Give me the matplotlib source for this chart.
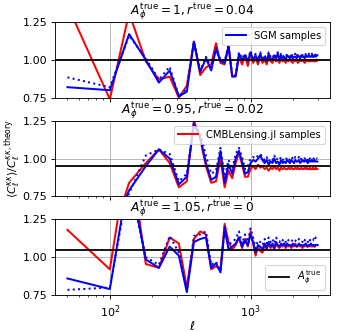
import numpy as np
import matplotlib
matplotlib.use("Agg")
import matplotlib.pyplot as plt

# multipole bins
ell = [50, 100, 137, 180, 223, 266, 309, 352, 395, 438, 481, 524, 567, 610, 653, 696,
       739, 782, 825, 868, 911, 954, 997, 1040, 1083, 1126, 1169, 1212, 1255, 1298,
       1341, 1384, 1427, 1470, 1513, 1556, 1599, 1642, 1685, 1728, 1771, 1814, 1857,
       1900, 1943, 1986, 2029, 2072, 2115, 2158, 2201, 2244, 2287, 2330, 2373, 2416,
       2459, 2502, 2545, 2588, 2631, 2674, 2717, 2760, 2803, 2846, 2889, 2932, 2975]

titles = [r"$A_\phi^{\rm true} = 1, r^{\rm true} = 0.04$",
          r"$A_\phi^{\rm true} = 0.95, r^{\rm true} = 0.02$",
          r"$A_\phi^{\rm true} = 1.05, r^{\rm true} = 0$"]
A_true = [1.0, 0.95, 1.05]

# panel 1
p1_red = [1.36, 0.74, 1.31, 0.99, 0.87, 0.89, 0.75, 0.83, 1.12, 0.90, 0.95, 0.97, 1.11,
          0.98, 0.97, 1.09, 0.89, 0.90, 1.02, 0.97, 1.03, 0.96, 1.04,
          0.98, 1.01, 0.97, 1.02, 0.98, 1.00, 0.97, 1.02, 0.99, 0.98, 1.01, 0.99, 1.00,
          0.98, 1.01, 0.99, 1.00, 0.98, 1.00, 0.99, 1.01, 0.99, 0.98, 1.00, 0.99, 1.00,
          0.98, 0.99, 1.00, 0.99, 1.00, 0.99, 0.98, 1.00, 0.99, 1.00, 0.99, 0.99, 1.00,
          0.99, 1.00, 0.99, 0.99, 1.00, 0.99, 1.00]
p1_blue = [0.82, 0.80, 1.17, 1.00, 0.85, 0.93, 0.76, 0.79, 1.12, 0.92, 1.01, 0.93, 1.07,
           0.99, 0.98, 1.09, 0.89, 0.89, 1.04, 1.00, 1.03, 0.99, 1.05,
           1.00, 1.03, 0.99, 1.04, 1.00, 1.02, 0.99, 1.04, 1.01, 1.00, 1.03, 1.01, 1.04,
           1.00, 1.03, 1.01, 1.02, 1.00, 1.03, 1.02, 1.01, 1.03, 1.01, 1.02, 1.02, 1.01,
           1.03, 1.02, 1.01, 1.03, 1.02, 1.02, 1.01, 1.03, 1.02, 1.02, 1.03, 1.02, 1.02,
           1.03, 1.02, 1.02, 1.03, 1.02, 1.03, 1.03]
p1_dot = [0.885, 0.82, 1.16, 1.01, 0.87, 0.955, 0.76, 0.81, 1.12, 0.93, 1.02, 0.95, 1.08,
          1.00, 0.99, 1.10, 0.90, 0.90, 1.05, 1.01, 1.04, 1.00, 1.06,
          1.01, 1.04, 1.00, 1.05, 1.01, 1.03, 1.00, 1.05, 1.02, 1.01, 1.04, 1.02, 1.05,
          1.01, 1.04, 1.02, 1.03, 1.02, 1.04, 1.03, 1.02, 1.04, 1.02, 1.03, 1.04, 1.02,
          1.04, 1.03, 1.02, 1.04, 1.03, 1.03, 1.02, 1.04, 1.03, 1.03, 1.04, 1.03, 1.03,
          1.04, 1.03, 1.03, 1.04, 1.03, 1.04, 1.04]

# panel 2
p2_red = [0.30, 0.45, 0.84, 0.97, 1.06, 0.97, 0.81, 0.85, 1.25, 1.13, 0.95, 0.84, 0.85,
          1.00, 0.81, 0.92, 0.87, 0.97, 1.04, 0.96, 0.88, 0.88, 0.93, 0.95, 0.93, 0.96, 0.94,
          0.95, 0.93, 0.94, 0.92, 0.94, 0.93, 0.95, 0.93, 0.94, 0.92, 0.94, 0.93, 0.94,
          0.93, 0.93, 0.94, 0.93, 0.94, 0.93, 0.93, 0.94, 0.93, 0.94, 0.93, 0.93, 0.94,
          0.93, 0.93, 0.94, 0.93, 0.94, 0.93, 0.93, 0.94, 0.93, 0.93, 0.94, 0.93, 0.93,
          0.94, 0.93, 0.93]
p2_blue = [0.30, 0.50, 0.79, 0.95, 1.06, 1.00, 0.83, 0.88, 1.23, 1.14, 0.97, 0.86, 0.88,
           1.05, 0.84, 0.96, 0.90, 1.00, 1.05, 0.98, 0.90, 0.91, 0.97, 0.99, 0.98, 1.00, 1.02,
           0.99, 0.97, 0.99, 0.96, 0.98, 0.97, 1.00, 0.97, 0.98, 0.96, 0.99, 0.97, 0.98,
           0.97, 0.99, 0.98, 0.97, 0.99, 0.98, 0.97, 0.99, 0.98, 0.98, 0.99, 0.97, 0.98,
           0.99, 0.98, 0.98, 0.99, 0.98, 0.97, 0.99, 0.98, 0.98, 0.99, 0.98, 0.98, 0.99,
           0.98, 0.98, 0.98]
p2_dot = [0.30, 0.50, 0.77, 1.02, 1.06, 1.03, 0.85, 0.90, 1.22, 1.17, 1.02, 0.90, 0.92,
          1.07, 0.88, 0.99, 0.93, 1.03, 1.07, 1.01, 0.93, 0.95, 1.00, 1.01, 1.00, 1.02, 1.03,
          1.01, 0.99, 1.01, 0.98, 1.00, 0.99, 1.02, 0.99, 1.00, 0.99, 1.01, 0.99, 1.00,
          0.99, 1.01, 1.00, 0.99, 1.01, 1.00, 0.99, 1.01, 1.00, 1.00, 1.01, 0.99, 1.00,
          1.01, 1.00, 1.00, 1.01, 1.00, 0.99, 1.01, 1.00, 1.00, 1.01, 1.00, 1.00, 1.01,
          1.00, 1.00, 1.00]

# panel 3
p3_red = [1.18, 0.92, 1.72, 0.955, 0.93, 1.13, 1.09, 0.80, 1.12, 1.17, 1.15, 0.92, 0.94,
          0.92, 1.22, 1.10, 1.05, 1.08, 1.13, 1.06, 1.12, 1.07, 1.17, 1.09, 1.01, 1.07, 1.04,
          1.03, 1.08, 1.05, 1.09, 1.06, 1.08, 1.05, 1.09, 1.07, 1.06, 1.08, 1.07, 1.09,
          1.06, 1.08, 1.07, 1.08, 1.06, 1.08, 1.07, 1.09, 1.07, 1.07, 1.08, 1.07, 1.08,
          1.06, 1.08, 1.07, 1.08, 1.07, 1.07, 1.08, 1.07, 1.08, 1.07, 1.07, 1.08, 1.07,
          1.08, 1.08, 1.08]
p3_blue = [0.86, 0.79, 1.55, 0.985, 0.93, 1.07, 1.01, 0.77, 1.10, 1.12, 1.13, 0.93, 0.96,
           0.90, 1.19, 1.05, 1.07, 1.09, 1.13, 1.07, 1.11, 1.08, 1.15, 1.10, 1.03, 1.08, 1.07,
           1.05, 1.09, 1.06, 1.10, 1.07, 1.09, 1.06, 1.10, 1.08, 1.07, 1.09, 1.08, 1.09,
           1.07, 1.09, 1.08, 1.08, 1.07, 1.09, 1.08, 1.08, 1.07, 1.08, 1.09, 1.08, 1.08,
           1.07, 1.08, 1.08, 1.09, 1.08, 1.07, 1.08, 1.08, 1.09, 1.08, 1.08, 1.08, 1.07,
           1.08, 1.08, 1.08]
p3_dot = [0.785, 0.80, 1.50, 1.00, 0.95, 1.14, 1.03, 0.78, 1.14, 1.15, 1.17, 0.95, 0.97,
          0.91, 1.20, 1.08, 1.10, 1.12, 1.17, 1.09, 1.15, 1.10, 1.19, 1.13, 1.06, 1.11, 1.10,
          1.08, 1.12, 1.09, 1.13, 1.10, 1.12, 1.09, 1.13, 1.11, 1.10, 1.12, 1.11, 1.12,
          1.10, 1.12, 1.11, 1.11, 1.10, 1.12, 1.11, 1.11, 1.10, 1.11, 1.12, 1.11, 1.11,
          1.10, 1.12, 1.11, 1.12, 1.11, 1.10, 1.12, 1.11, 1.12, 1.11, 1.11, 1.12, 1.11,
          1.13, 1.12, 1.13]

reds = [p1_red, p2_red, p3_red]
blues = [p1_blue, p2_blue, p3_blue]
dots = [p1_dot, p2_dot, p3_dot]

fig, axes = plt.subplots(3, 1, sharex=True, figsize=(337/80, 332/80), dpi=80)
plt.subplots_adjust(left=0.163, right=0.979, top=0.934, bottom=0.111, hspace=0.3)

for i, ax in enumerate(axes):
    ax.grid(True)
    ax.plot(ell, reds[i], c="red", lw=1.8,
            label="CMBLensing.jl samples" if i == 1 else None)
    ax.plot(ell, blues[i], c="blue", lw=1.8, label="SGM samples" if i == 0 else None)
    ax.plot(ell, dots[i], c="blue", ls=":", lw=1.8)
    ax.axhline(A_true[i], c="black", lw=1.6,
               label=r"$A_\phi^{\rm true}$" if i == 2 else None)
    ax.set_xscale("log")
    ax.set_ylim(0.75, 1.25)
    ax.set_yticks([0.75, 1.00, 1.25])
    ax.set_title(titles[i], fontsize=11, pad=3)

axes[0].legend(loc="upper right", fontsize=9)
axes[1].legend(loc="upper right", fontsize=9)
axes[2].legend(loc="lower right", fontsize=9)
axes[1].set_ylabel(r"$\langle C_\ell^{\kappa\kappa}\rangle / C_\ell^{\kappa\kappa,\rm theory}$")
axes[1].yaxis.set_label_coords(-0.115, 0.5)
axes[2].set_xlabel(r"$\ell$", fontsize=11, labelpad=0)

plt.savefig("out.png")
